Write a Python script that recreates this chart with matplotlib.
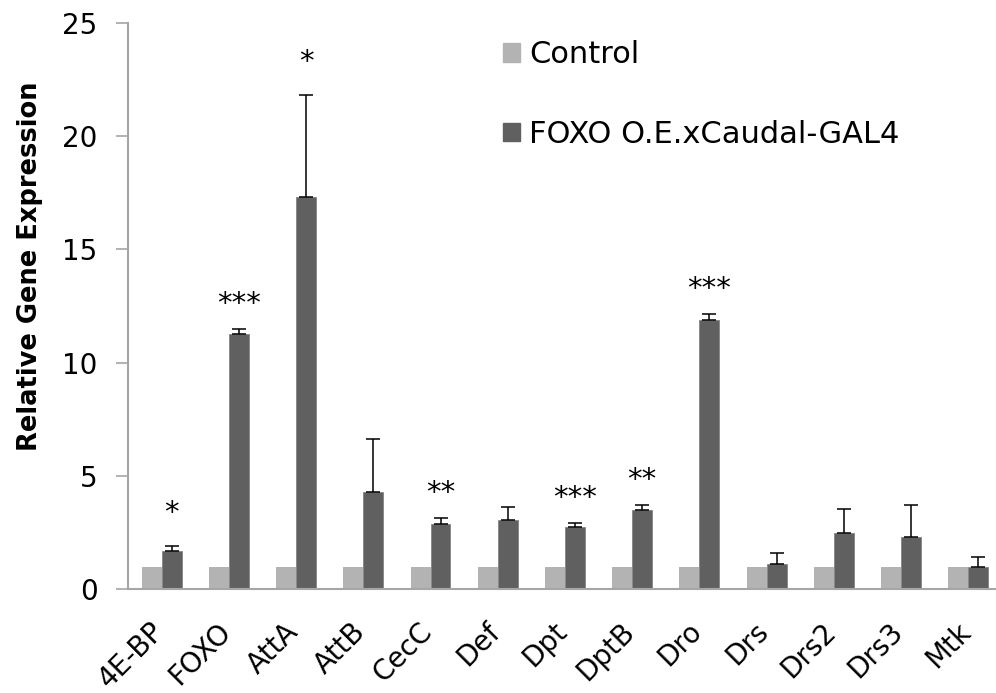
import numpy as np
import matplotlib.pyplot as plt
import matplotlib.transforms as mtransforms
from matplotlib.patches import Patch

genes = ['4E-BP', 'FOXO', 'AttA', 'AttB', 'CecC', 'Def', 'Dpt', 'DptB',
         'Dro', 'Drs', 'Drs2', 'Drs3', 'Mtk']
control = [1.0, 1.0, 1.0, 1.0, 1.0, 1.0, 1.0, 1.0, 1.0, 1.0, 1.0, 1.0, 1.0]
foxo_oe = [1.69, 11.26, 17.32, 4.28, 2.87, 3.04, 2.73, 3.48, 11.89, 1.13, 2.48, 2.31, 1.0]
foxo_err = [0.21, 0.24, 4.48, 2.34, 0.28, 0.60, 0.18, 0.22, 0.24, 0.47, 1.05, 1.39, 0.44]
stars = ['*', '***', '*', '', '**', '', '***', '**', '***', '', '', '', '']

ctrl_color = '#b3b3b3'
oe_color = '#606060'
axis_gray = '#a6a6a6'

fig = plt.figure(figsize=(9.96, 6.93), dpi=100)
ax = fig.add_axes([0.1285, 0.1496, 0.8775, 0.8178])

x = np.arange(len(genes))
w = 0.297
ax.bar(x - w / 2, control, w, color=ctrl_color, label='Control')
ax.bar(x + w / 2, foxo_oe, w, color=oe_color, edgecolor='#858585', linewidth=0.6,
       label='FOXO O.E.xCaudal-GAL4')
ax.errorbar(x + w / 2, foxo_oe, yerr=[np.zeros(len(genes)), foxo_err], fmt='none',
            ecolor='black', elinewidth=1.1, capsize=5, capthick=1.1)

# significance marks above the error caps (lone stars sit a bit higher)
for xi, v, e, s in zip(x, foxo_oe, foxo_err, stars):
    if s:
        dy = 14 if len(s) == 1 else 8
        ax.annotate(s, (xi + w / 2, v + e), xytext=(0, dy), textcoords='offset points',
                    ha='center', va='bottom', fontsize=21)

ax.set_xlim(-0.5, len(genes) - 0.5)
ax.set_ylim(0, 25)
ax.set_yticks([0, 5, 10, 15, 20, 25])
ax.set_xticks(x)
ax.set_xticklabels(genes, rotation=45, ha='right', rotation_mode='anchor', fontsize=20)
ax.tick_params(axis='x', length=0, pad=20)
ax.tick_params(axis='y', labelsize=20, length=9, width=1.2, color=axis_gray, pad=13)

# pull the slanted gene names back under their bars
shift = mtransforms.ScaledTranslation(-12 / 100, 0, fig.dpi_scale_trans)
for lab in ax.get_xticklabels():
    lab.set_transform(lab.get_transform() + shift)

for side in ['top', 'right']:
    ax.spines[side].set_visible(False)
for side in ['left', 'bottom']:
    ax.spines[side].set_color(axis_gray)
    ax.spines[side].set_linewidth(1.5)

ax.set_ylabel('Relative Gene Expression', fontsize=18.5, fontweight='bold')
ax.yaxis.set_label_coords(-0.097, 0.5705)

handles = [Patch(color=ctrl_color), Patch(color=oe_color)]
ax.legend(handles, ['Control', 'FOXO O.E.xCaudal-GAL4'], loc='upper left',
          bbox_to_anchor=(0.412, 0.996), frameon=False, fontsize=22, borderpad=0,
          handlelength=0.55, handleheight=0.55, handletextpad=0.3, labelspacing=1.65)

plt.savefig('out.png', dpi=100)
